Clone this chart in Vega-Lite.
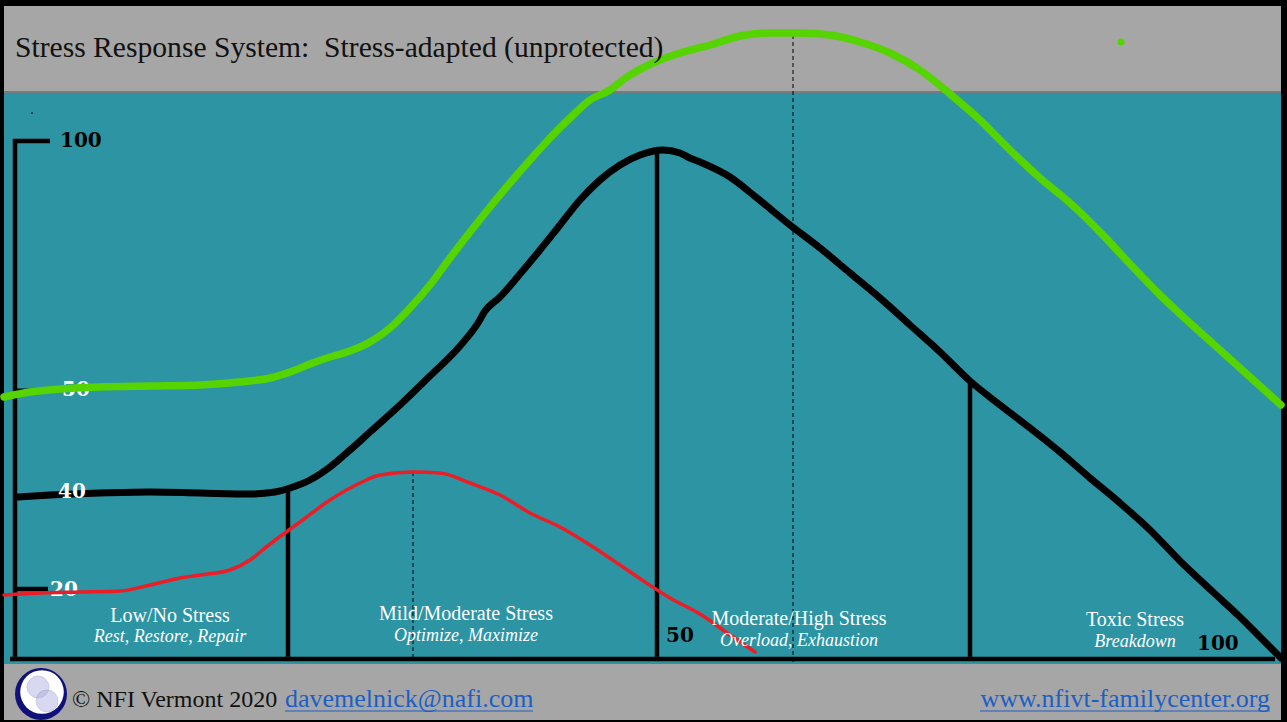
{
  "$schema": "https://vega.github.io/schema/vega-lite/v6.json",
  "width": 1287,
  "height": 722,
  "autosize": {"type": "fit", "contains": "padding"},
  "padding": 0,
  "background": "#000000",
  "config": {"view": {"stroke": null}},
  "datasets": {
    "panels": [
      {"part": "header", "x": 4, "x2": 1281, "y": 6, "y2": 92},
      {"part": "plot", "x": 4, "x2": 1281, "y": 92, "y2": 664},
      {"part": "footer", "x": 4, "x2": 1281, "y": 664, "y2": 720}
    ],
    "rules": [
      {"kind": "divider", "x": 4, "x2": 1281, "y": 92, "y2": 92},
      {"kind": "axis", "x": 15, "x2": 15, "y": 139, "y2": 660},
      {"kind": "axis", "x": 10, "x2": 1275, "y": 659, "y2": 659},
      {"kind": "axis", "x": 13, "x2": 50, "y": 141, "y2": 141},
      {"kind": "axis", "x": 15, "x2": 48, "y": 589, "y2": 589},
      {"kind": "axis", "x": 15, "x2": 22, "y": 497, "y2": 497},
      {"kind": "axis", "x": 288, "x2": 288, "y": 490, "y2": 659},
      {"kind": "axis", "x": 657, "x2": 657, "y": 152, "y2": 659},
      {"kind": "axis", "x": 970, "x2": 970, "y": 383, "y2": 659},
      {"kind": "thin", "x": 15, "x2": 50, "y": 390, "y2": 390},
      {"kind": "dash", "x": 413, "x2": 413, "y": 472, "y2": 658},
      {"kind": "dash", "x": 793, "x2": 793, "y": 35, "y2": 664},
      {"kind": "link", "x": 285, "x2": 533, "y": 711, "y2": 711},
      {"kind": "link", "x": 980, "x2": 1270, "y": 711, "y2": 711}
    ],
    "curves": [
      {"s": "black", "i": 0, "x": 18, "y": 497}, {"s": "black", "i": 1, "x": 50, "y": 495},
      {"s": "black", "i": 2, "x": 100, "y": 493}, {"s": "black", "i": 3, "x": 150, "y": 492},
      {"s": "black", "i": 4, "x": 200, "y": 493}, {"s": "black", "i": 5, "x": 250, "y": 494},
      {"s": "black", "i": 6, "x": 275, "y": 492}, {"s": "black", "i": 7, "x": 290, "y": 488},
      {"s": "black", "i": 8, "x": 310, "y": 480}, {"s": "black", "i": 9, "x": 330, "y": 467},
      {"s": "black", "i": 10, "x": 350, "y": 450}, {"s": "black", "i": 11, "x": 370, "y": 432},
      {"s": "black", "i": 12, "x": 400, "y": 405}, {"s": "black", "i": 13, "x": 430, "y": 376},
      {"s": "black", "i": 14, "x": 460, "y": 346}, {"s": "black", "i": 15, "x": 478, "y": 323},
      {"s": "black", "i": 16, "x": 485, "y": 311}, {"s": "black", "i": 17, "x": 500, "y": 297},
      {"s": "black", "i": 18, "x": 520, "y": 274}, {"s": "black", "i": 19, "x": 540, "y": 250},
      {"s": "black", "i": 20, "x": 560, "y": 225}, {"s": "black", "i": 21, "x": 580, "y": 200},
      {"s": "black", "i": 22, "x": 600, "y": 180}, {"s": "black", "i": 23, "x": 620, "y": 165},
      {"s": "black", "i": 24, "x": 640, "y": 155}, {"s": "black", "i": 25, "x": 663, "y": 150},
      {"s": "black", "i": 26, "x": 680, "y": 153}, {"s": "black", "i": 27, "x": 690, "y": 158},
      {"s": "black", "i": 28, "x": 700, "y": 162}, {"s": "black", "i": 29, "x": 730, "y": 177},
      {"s": "black", "i": 30, "x": 757, "y": 198}, {"s": "black", "i": 31, "x": 790, "y": 225},
      {"s": "black", "i": 32, "x": 820, "y": 248}, {"s": "black", "i": 33, "x": 850, "y": 273},
      {"s": "black", "i": 34, "x": 880, "y": 298}, {"s": "black", "i": 35, "x": 910, "y": 325},
      {"s": "black", "i": 36, "x": 940, "y": 352}, {"s": "black", "i": 37, "x": 970, "y": 381},
      {"s": "black", "i": 38, "x": 1000, "y": 405}, {"s": "black", "i": 39, "x": 1030, "y": 428},
      {"s": "black", "i": 40, "x": 1060, "y": 452}, {"s": "black", "i": 41, "x": 1090, "y": 478},
      {"s": "black", "i": 42, "x": 1120, "y": 503}, {"s": "black", "i": 43, "x": 1150, "y": 530},
      {"s": "black", "i": 44, "x": 1180, "y": 561}, {"s": "black", "i": 45, "x": 1213, "y": 592},
      {"s": "black", "i": 46, "x": 1240, "y": 617}, {"s": "black", "i": 47, "x": 1260, "y": 637},
      {"s": "black", "i": 48, "x": 1281, "y": 658},
      {"s": "red", "i": 0, "x": 4, "y": 595}, {"s": "red", "i": 1, "x": 40, "y": 593},
      {"s": "red", "i": 2, "x": 80, "y": 592}, {"s": "red", "i": 3, "x": 120, "y": 591},
      {"s": "red", "i": 4, "x": 150, "y": 585}, {"s": "red", "i": 5, "x": 180, "y": 578},
      {"s": "red", "i": 6, "x": 200, "y": 575}, {"s": "red", "i": 7, "x": 230, "y": 570},
      {"s": "red", "i": 8, "x": 250, "y": 560}, {"s": "red", "i": 9, "x": 265, "y": 548},
      {"s": "red", "i": 10, "x": 278, "y": 538}, {"s": "red", "i": 11, "x": 300, "y": 522},
      {"s": "red", "i": 12, "x": 330, "y": 500}, {"s": "red", "i": 13, "x": 360, "y": 483},
      {"s": "red", "i": 14, "x": 380, "y": 475}, {"s": "red", "i": 15, "x": 413, "y": 472},
      {"s": "red", "i": 16, "x": 440, "y": 473}, {"s": "red", "i": 17, "x": 470, "y": 483},
      {"s": "red", "i": 18, "x": 500, "y": 495}, {"s": "red", "i": 19, "x": 530, "y": 513},
      {"s": "red", "i": 20, "x": 560, "y": 527}, {"s": "red", "i": 21, "x": 590, "y": 545},
      {"s": "red", "i": 22, "x": 620, "y": 565}, {"s": "red", "i": 23, "x": 645, "y": 582},
      {"s": "red", "i": 24, "x": 670, "y": 598}, {"s": "red", "i": 25, "x": 700, "y": 614},
      {"s": "red", "i": 26, "x": 730, "y": 635}, {"s": "red", "i": 27, "x": 755, "y": 652},
      {"s": "green", "i": 0, "x": 4, "y": 397}, {"s": "green", "i": 1, "x": 30, "y": 392},
      {"s": "green", "i": 2, "x": 60, "y": 389}, {"s": "green", "i": 3, "x": 100, "y": 387},
      {"s": "green", "i": 4, "x": 150, "y": 386}, {"s": "green", "i": 5, "x": 200, "y": 385},
      {"s": "green", "i": 6, "x": 240, "y": 382}, {"s": "green", "i": 7, "x": 270, "y": 378},
      {"s": "green", "i": 8, "x": 290, "y": 372}, {"s": "green", "i": 9, "x": 310, "y": 364},
      {"s": "green", "i": 10, "x": 330, "y": 357}, {"s": "green", "i": 11, "x": 350, "y": 351},
      {"s": "green", "i": 12, "x": 370, "y": 342}, {"s": "green", "i": 13, "x": 390, "y": 328},
      {"s": "green", "i": 14, "x": 410, "y": 308}, {"s": "green", "i": 15, "x": 430, "y": 285},
      {"s": "green", "i": 16, "x": 450, "y": 258}, {"s": "green", "i": 17, "x": 470, "y": 232},
      {"s": "green", "i": 18, "x": 490, "y": 207}, {"s": "green", "i": 19, "x": 510, "y": 183},
      {"s": "green", "i": 20, "x": 530, "y": 160}, {"s": "green", "i": 21, "x": 550, "y": 138},
      {"s": "green", "i": 22, "x": 570, "y": 118}, {"s": "green", "i": 23, "x": 590, "y": 100},
      {"s": "green", "i": 24, "x": 610, "y": 90}, {"s": "green", "i": 25, "x": 627, "y": 77},
      {"s": "green", "i": 26, "x": 653, "y": 63}, {"s": "green", "i": 27, "x": 680, "y": 53},
      {"s": "green", "i": 28, "x": 710, "y": 45}, {"s": "green", "i": 29, "x": 740, "y": 36},
      {"s": "green", "i": 30, "x": 770, "y": 33}, {"s": "green", "i": 31, "x": 800, "y": 33},
      {"s": "green", "i": 32, "x": 830, "y": 35}, {"s": "green", "i": 33, "x": 860, "y": 42},
      {"s": "green", "i": 34, "x": 890, "y": 53}, {"s": "green", "i": 35, "x": 920, "y": 70},
      {"s": "green", "i": 36, "x": 950, "y": 94}, {"s": "green", "i": 37, "x": 980, "y": 120},
      {"s": "green", "i": 38, "x": 1010, "y": 150}, {"s": "green", "i": 39, "x": 1040, "y": 178},
      {"s": "green", "i": 40, "x": 1070, "y": 203}, {"s": "green", "i": 41, "x": 1100, "y": 232},
      {"s": "green", "i": 42, "x": 1130, "y": 264}, {"s": "green", "i": 43, "x": 1160, "y": 295},
      {"s": "green", "i": 44, "x": 1190, "y": 323}, {"s": "green", "i": 45, "x": 1220, "y": 350},
      {"s": "green", "i": 46, "x": 1250, "y": 377}, {"s": "green", "i": 47, "x": 1281, "y": 405}
    ],
    "dots": [
      {"kind": "green", "x": 1121, "y": 42},
      {"kind": "speck", "x": 32, "y": 113}
    ],
    "logo": [
      {"part": "ring", "x": 41, "y": 694},
      {"part": "inner", "x": 42, "y": 692},
      {"part": "lobe1", "x": 38, "y": 687},
      {"part": "lobe2", "x": 47, "y": 701}
    ],
    "labels": [
      {"kind": "title", "text": "Stress Response System:\u00a0 Stress-adapted (unprotected)", "x": 15, "y": 57},
      {"kind": "numWhite", "text": "50", "x": 62, "y": 390},
      {"kind": "numWhite", "text": "40", "x": 58, "y": 492},
      {"kind": "numWhite", "text": "20", "x": 50, "y": 590},
      {"kind": "numBlack", "text": "100", "x": 60, "y": 141},
      {"kind": "numBlack", "text": "50", "x": 666, "y": 636},
      {"kind": "numBlack", "text": "100", "x": 1197, "y": 644},
      {"kind": "zone", "text": "Low/No Stress", "x": 170, "y": 622},
      {"kind": "zone", "text": "Mild/Moderate Stress", "x": 466, "y": 620},
      {"kind": "zone", "text": "Moderate/High Stress", "x": 799, "y": 625},
      {"kind": "zone", "text": "Toxic Stress", "x": 1135, "y": 626},
      {"kind": "zoneSub", "text": "Rest, Restore, Repair", "x": 170, "y": 642},
      {"kind": "zoneSub", "text": "Optimize, Maximize", "x": 466, "y": 641},
      {"kind": "zoneSub", "text": "Overload, Exhaustion", "x": 799, "y": 646},
      {"kind": "zoneSub", "text": "Breakdown", "x": 1135, "y": 647},
      {"kind": "credit", "text": "© NFI Vermont 2020", "x": 72, "y": 707},
      {"kind": "linkL", "text": "davemelnick@nafi.com", "x": 285, "y": 707},
      {"kind": "linkR", "text": "www.nfivt-familycenter.org", "x": 1270, "y": 707}
    ]
  },
  "encoding": {
    "x": {"field": "x", "type": "quantitative", "scale": {"domain": [0, 1287], "nice": false, "zero": false}, "axis": null},
    "y": {"field": "y", "type": "quantitative", "scale": {"domain": [0, 722], "nice": false, "zero": false, "reverse": true}, "axis": null}
  },
  "layer": [
    {
      "data": {"name": "panels"},
      "mark": {"type": "rect"},
      "encoding": {
        "x2": {"field": "x2"},
        "y2": {"field": "y2"},
        "color": {"field": "part", "type": "nominal", "legend": null,
          "scale": {"domain": ["header", "plot", "footer"], "range": ["#a6a6a6", "#2c94a3", "#a6a6a6"]}}
      }
    },
    {
      "data": {"name": "rules"},
      "transform": [{"filter": "datum.kind === 'divider'"}],
      "mark": {"type": "rule", "color": "#7a7a7a", "strokeWidth": 2},
      "encoding": {"x2": {"field": "x2"}, "y2": {"field": "y2"}}
    },
    {
      "data": {"name": "rules"},
      "transform": [{"filter": "datum.kind === 'dash'"}],
      "mark": {"type": "rule", "color": "#000000", "strokeWidth": 1, "strokeDash": [4, 3]},
      "encoding": {"x2": {"field": "x2"}, "y2": {"field": "y2"}}
    },
    {
      "data": {"name": "rules"},
      "transform": [{"filter": "datum.kind === 'axis'"}],
      "mark": {"type": "rule", "color": "#000000", "strokeWidth": 4.5},
      "encoding": {"x2": {"field": "x2"}, "y2": {"field": "y2"}}
    },
    {
      "data": {"name": "rules"},
      "transform": [{"filter": "datum.kind === 'thin'"}],
      "mark": {"type": "rule", "color": "#000000", "strokeWidth": 3},
      "encoding": {"x2": {"field": "x2"}, "y2": {"field": "y2"}}
    },
    {
      "data": {"name": "rules"},
      "transform": [{"filter": "datum.kind === 'link'"}],
      "mark": {"type": "rule", "color": "#1a5fc8", "strokeWidth": 1.2},
      "encoding": {"x2": {"field": "x2"}, "y2": {"field": "y2"}}
    },
    {
      "data": {"name": "curves"},
      "transform": [{"filter": "datum.s === 'black'"}],
      "mark": {"type": "line", "color": "#000000", "strokeWidth": 7, "interpolate": "monotone", "strokeCap": "round", "strokeJoin": "round"},
      "encoding": {"order": {"field": "i", "type": "quantitative"}}
    },
    {
      "data": {"name": "labels"},
      "transform": [{"filter": "datum.kind === 'numWhite'"}],
      "mark": {"type": "text", "font": "DejaVu Serif", "fontWeight": "bold", "fontSize": 20, "color": "#ffffff", "align": "left", "baseline": "middle"},
      "encoding": {"text": {"field": "text"}}
    },
    {
      "data": {"name": "labels"},
      "transform": [{"filter": "datum.kind === 'numBlack'"}],
      "mark": {"type": "text", "font": "DejaVu Serif", "fontWeight": "bold", "fontSize": 20, "color": "#000000", "align": "left", "baseline": "middle"},
      "encoding": {"text": {"field": "text"}}
    },
    {
      "data": {"name": "curves"},
      "transform": [{"filter": "datum.s === 'red'"}],
      "mark": {"type": "line", "color": "#ee1c25", "strokeWidth": 3.5, "interpolate": "monotone", "strokeCap": "round", "strokeJoin": "round"},
      "encoding": {"order": {"field": "i", "type": "quantitative"}}
    },
    {
      "data": {"name": "curves"},
      "transform": [{"filter": "datum.s === 'green'"}],
      "mark": {"type": "line", "color": "#55d400", "strokeWidth": 7.5, "interpolate": "monotone", "strokeCap": "round", "strokeJoin": "round"},
      "encoding": {"order": {"field": "i", "type": "quantitative"}}
    },
    {
      "data": {"name": "dots"},
      "transform": [{"filter": "datum.kind === 'green'"}],
      "mark": {"type": "point", "shape": "circle", "filled": true, "opacity": 1, "color": "#55d400", "size": 50}
    },
    {
      "data": {"name": "dots"},
      "transform": [{"filter": "datum.kind === 'speck'"}],
      "mark": {"type": "point", "shape": "circle", "filled": true, "opacity": 1, "color": "#000000", "size": 3}
    },
    {
      "data": {"name": "labels"},
      "transform": [{"filter": "datum.kind === 'title'"}],
      "mark": {"type": "text", "font": "Liberation Serif", "fontSize": 29.6, "color": "#111111", "align": "left", "baseline": "alphabetic"},
      "encoding": {"text": {"field": "text"}}
    },
    {
      "data": {"name": "labels"},
      "transform": [{"filter": "datum.kind === 'zone'"}],
      "mark": {"type": "text", "font": "Liberation Serif", "fontSize": 20, "color": "#ffffff", "align": "center", "baseline": "alphabetic"},
      "encoding": {"text": {"field": "text"}}
    },
    {
      "data": {"name": "labels"},
      "transform": [{"filter": "datum.kind === 'zoneSub'"}],
      "mark": {"type": "text", "font": "Liberation Serif", "fontStyle": "italic", "fontSize": 18, "color": "#ffffff", "align": "center", "baseline": "alphabetic"},
      "encoding": {"text": {"field": "text"}}
    },
    {
      "data": {"name": "labels"},
      "transform": [{"filter": "datum.kind === 'credit'"}],
      "mark": {"type": "text", "font": "Liberation Serif", "fontSize": 24, "color": "#111111", "align": "left", "baseline": "alphabetic"},
      "encoding": {"text": {"field": "text"}}
    },
    {
      "data": {"name": "labels"},
      "transform": [{"filter": "datum.kind === 'linkL'"}],
      "mark": {"type": "text", "font": "Liberation Serif", "fontSize": 26, "color": "#1a5fc8", "align": "left", "baseline": "alphabetic"},
      "encoding": {"text": {"field": "text"}}
    },
    {
      "data": {"name": "labels"},
      "transform": [{"filter": "datum.kind === 'linkR'"}],
      "mark": {"type": "text", "font": "Liberation Serif", "fontSize": 26, "color": "#1a5fc8", "align": "right", "baseline": "alphabetic"},
      "encoding": {"text": {"field": "text"}}
    },
    {
      "data": {"name": "logo"},
      "transform": [{"filter": "datum.part === 'ring'"}],
      "mark": {"type": "point", "shape": "circle", "filled": true, "opacity": 1, "color": "#10107a", "size": 2700}
    },
    {
      "data": {"name": "logo"},
      "transform": [{"filter": "datum.part === 'inner'"}],
      "mark": {"type": "point", "shape": "circle", "filled": true, "opacity": 1, "color": "#ffffff", "size": 1900}
    },
    {
      "data": {"name": "logo"},
      "transform": [{"filter": "datum.part !== 'ring' && datum.part !== 'inner'"}],
      "mark": {"type": "point", "shape": "circle", "filled": true, "opacity": 0.45, "color": "#a9aade", "stroke": "#7e80c0", "strokeWidth": 0.8, "size": 480}
    }
  ]
}
